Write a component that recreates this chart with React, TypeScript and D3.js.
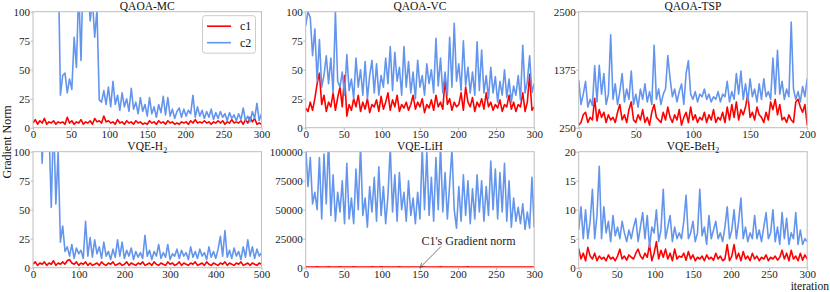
import { useEffect, useRef } from 'react';
import * as d3 from 'd3';

// gradient norms (c1 = red, c2 = blue)
const MC_C1 = [4,7,3,6,4,8,3,5,4,6,3,5,4,5,3,9,4,6,3,5,4,7,3,5,4,6,3,8,5,6,4,10,5,6,4,5,3,7,4,5,3,6,4,5,3,6,4,5,3,4,3,6,4,5,3,6,4,5,3,6,4,5,3,4,3,5,4,5,3,6,4,7,4,5,4,6,4,5,3,5,4,6,4,6,3,5,4,7,4,5,4,6,3,7,4,9,5,8,3,4,3];
const MC_C2 = [210,160,250,180,300,140,220,190,260,170,230,150,
  28,45,47,30,42,33,78,52,120,58,140,180,130,92,110,78,102,24,22,32,20,35,18,40,20,28,15,30,18,25,14,34,16,22,12,26,14,20,10,26,
  12,18,9,20,13,27,11,26,10,16,8,14,17,9,16,10,15,12,28,9,18,10,15,8,14,9,16,7,13,8,14,9,12,6,13,8,11,6,12,7,17,6,10,5,14,8,21,6,12];

const VC_C1 = [17,14,22,15,25,38,47,20,28,14,22,18,30,15,26,35,18,45,10,20,15,25,18,28,14,22,16,25,13,20,18,24,14,27,16,22,30,15,24,18,28,14,20,17,22,15,20,28,16,22,18,25,13,20,17,24,15,28,18,22,16,42,20,25,15,22,18,20,30,15,35,22,18,26,14,22,18,25,16,30,18,22,15,20,17,24,14,20,18,28,16,22,14,20,18,30,14,22,46,15,18];
const VC_C2 = [88,100,95,62,85,40,76,35,45,62,38,60,30,100,40,35,48,28,63,32,42,25,60,35,50,28,57,25,45,58,30,55,28,45,35,60,38,70,32,65,40,52,28,70,35,57,30,48,25,58,35,45,28,55,38,50,30,77,36,60,30,48,28,78,35,90,40,55,32,75,36,52,30,48,28,74,32,67,30,45,25,52,30,44,22,40,28,50,26,42,22,36,28,45,24,71,30,40,62,30,38];

const TSP_C1 = [300,350,500,550,350,450,400,820,380,600,450,550,350,500,400,450,350,550,700,400,500,350,600,750,400,350,500,400,600,350,450,300,550,700,450,400,350,550,400,650,450,350,500,400,600,300,450,550,350,650,400,500,350,450,400,550,350,500,400,600,350,450,400,550,350,650,400,700,450,750,400,600,500,650,900,450,550,400,650,500,450,350,550,400,750,600,800,500,700,400,450,350,500,400,350,750,800,650,550,700,300];
const TSP_C2 = [1180,700,900,1150,650,800,680,1450,750,1460,900,1300,700,900,2050,800,1100,700,950,1300,750,1000,800,1350,700,900,650,1000,800,1100,750,950,700,1850,800,1000,700,900,1000,1650,1200,850,1000,750,950,1100,700,1300,1550,900,800,950,750,900,850,1000,800,900,750,850,800,950,750,900,850,1150,750,950,800,1300,900,1350,800,1100,750,1200,850,1000,750,1100,800,1200,850,950,800,1600,900,1750,900,1150,800,1000,850,2300,1000,800,950,750,1050,850,1200];

const H2_C1 = [3,5,2,4,3,5,2,4,3,6,2,4,3,5,3,6,7,4,3,5,2,4,3,5,2,4,2,3,4,2,5,3,2,4,3,5,2,3,4,2,3,5,2,4,3,2,4,3,5,2,3,4,2,5,3,2,4,3,2,5,3,4,2,3,5,2,4,3,2,4,3,5,2,3,4,2,5,3,2,4,3,2,4,3,5,2,4,3,2,4,3,5,2,3,4,2,4,3,2,4,3];
const H2_C2 = [150,200,130,160,90,140,180,120,52,130,55,100,22,36,14,18,10,20,8,17,12,15,8,40,10,26,9,24,12,18,8,22,10,14,7,16,9,24,10,22,8,15,10,17,7,14,9,13,8,28,10,15,7,14,10,20,8,13,9,20,7,12,10,16,8,15,10,13,7,18,9,14,8,16,10,13,7,18,9,14,8,16,27,10,32,9,15,8,17,10,14,7,18,9,24,10,18,8,16,10,13];

const LIH_C1 = [700,550,650,520,600,750,580,660,540,620,700,560,640,600,530,680,570,630,550,660,590,720,540,610,650,570,630,530,600,670,560,640,580,700,550,620,660,540,590,630,570,680,550,610,640,530,600,660,580,630,550,690,570,620,540,650,590,610,560,670,540,630,600,580,660,550,620,570,640,530,610,680,560,600,630,550,660,580,620,540,640,570,600,660,550,630,590,610,540,650,570,620,560,600,640,550,610,580,630,540,600];
const LIH_C2 = [105000,70000,95000,55000,65000,50000,95000,42000,98000,55000,110000,45000,80000,40000,65000,48000,75000,38000,90000,42000,60000,38000,85000,50000,105000,45000,60000,35000,70000,48000,78000,40000,87000,45000,70000,38000,62000,104000,48000,80000,40000,82000,50000,65000,40000,75000,45000,60000,38000,65000,42000,103000,50000,100000,45000,78000,40000,95000,50000,105000,48000,82000,42000,72000,102000,50000,34000,70000,40000,80000,45000,75000,38000,68000,42000,80000,48000,75000,40000,70000,45000,92000,50000,85000,42000,82000,48000,90000,40000,75000,35000,60000,40000,52000,38000,55000,33000,48000,34000,78000,35000];

const BEH2_C1 = [3.3,1.5,2.5,1.2,3.5,2,1.5,2.5,1.2,2,1.5,1.8,1.2,2.2,1.5,1.8,1.2,2,3.2,1.5,2,1.3,2.2,1.8,1.5,2.5,3.2,2,1.5,2.5,1.8,4,1.2,2.5,4.5,1.5,3,1.8,3.2,1.5,2.5,1.2,3.2,1.5,2,1.8,2.5,1.3,2.8,1.5,2.2,1.2,1.8,1.5,2,1.2,2.2,1.5,1.8,1.3,2.5,1.5,2,1.2,1.5,4,1.2,2,4,1.5,2.5,1.2,2.8,1.5,2,1.2,2.5,1.5,2,1.2,1.8,1.5,2.2,1.2,1.8,1.5,2,1.3,1.8,3,1.5,2.5,1.2,3,1.5,2,1.2,2.5,1.3,2.2,1.5];
const BEH2_C2 = [6.5,10.5,5,10,5,8,13.5,5,9,17.5,5,10.5,6,8,4.5,9,5.5,7,5,8,6,4.5,6.5,5,7,8.5,4.5,7,9.5,5,9,3.5,7,6,10,4.5,6.5,13.5,5,7,9,4.5,7,5,6,5,8,12.5,5,6,8,4.5,6,13.5,5.5,7,4,9,5,6.5,8,5,6,4.5,7,10.5,5,6.5,10,5,8,12,5,7,4.5,6,5,9,5,6.5,4.5,7,9.5,5,6,10,4.5,7,4,9.5,5,8.5,4,6,5,9.5,4,6.5,4,5,4.5];

const TITLES = ['QAOA-MC', 'QAOA-VC', 'QAOA-TSP', 'VQE-H', 'VQE-LiH', 'VQE-BeH'];
const TITLE_SUBS = ['', '', '', '2', '', '2'];
const X_MAX = [300, 300, 200, 500, 300, 300];
const X_TICKS = [
  [0, 50, 100, 150, 200, 250, 300],
  [0, 50, 100, 150, 200, 250, 300],
  [0, 50, 100, 150, 200],
  [0, 100, 200, 300, 400, 500],
  [0, 50, 100, 150, 200, 250, 300],
  [0, 50, 100, 150, 200, 250, 300],
];
const Y_TICKS = [
  [0, 25, 50, 75, 100],
  [0, 25, 50, 75, 100],
  [250, 1375, 2500],
  [0, 25, 50, 75, 100],
  [0, 25000, 50000, 75000, 100000],
  [0, 5, 10, 15, 20],
];
const C1_SERIES = [MC_C1, VC_C1, TSP_C1, H2_C1, LIH_C1, BEH2_C1];
const C2_SERIES = [MC_C2, VC_C2, TSP_C2, H2_C2, LIH_C2, BEH2_C2];
const LEGEND = ['c1', 'c2'];

const RED = '#ff0000';
const BLUE = '#6495ed';
const FONT = '"Liberation Serif", "Times New Roman", serif';

export default function App() {
  const svgRef = useRef<SVGSVGElement>(null);

  useEffect(() => {
    if (!svgRef.current) return;
    const svg = d3.select(svgRef.current);
    svg.selectAll('*').remove();

    const COLS = [33, 305.7, 578.7];
    const ROWS = [11.7, 151.7];
    const PW = 228.5;
    const PH = 116;

    TITLES.forEach((title, i) => {
      const x0 = COLS[i % 3];
      const y0 = ROWS[Math.floor(i / 3)];
      const yt = Y_TICKS[i];
      const x = d3.scaleLinear().domain([0, X_MAX[i]]).range([x0, x0 + PW]);
      const y = d3.scaleLinear().domain([yt[0], yt[yt.length - 1]]).range([y0 + PH, y0]);

      const g = svg.append('g');
      const clipId = `clip-${i}`;
      g.append('clipPath').attr('id', clipId)
        .append('rect').attr('x', x0).attr('y', y0).attr('width', PW).attr('height', PH);

      const plot = g.append('g').attr('clip-path', `url(#${clipId})`);
      [C1_SERIES[i], C2_SERIES[i]].forEach((vals, k) => {
        const step = X_MAX[i] / (vals.length - 1);
        const line = d3.line<number>().x((_, j) => x(j * step)).y(v => y(v));
        plot.append('path').datum(vals).attr('d', line)
          .style('fill', 'none').style('stroke', k === 0 ? RED : BLUE)
          .style('stroke-width', 1.6).style('stroke-linejoin', 'round');
      });

      // frame
      g.append('rect').attr('x', x0).attr('y', y0).attr('width', PW).attr('height', PH)
        .style('fill', 'none').style('stroke', '#bdbdbd').style('stroke-width', 1);

      // axes
      const xa = g.append('g').attr('transform', `translate(0,${y0 + PH})`)
        .call(d3.axisBottom(x).tickValues(X_TICKS[i]).tickSize(2.5).tickPadding(-0.5).tickFormat(d3.format('d')));
      const ya = g.append('g').attr('transform', `translate(${x0},0)`)
        .call(d3.axisLeft(y).tickValues(yt).tickSize(2.5).tickPadding(0.5).tickFormat(d3.format('d')));
      [xa, ya].forEach(a => {
        a.select('.domain').remove();
        a.selectAll('.tick line').style('stroke', '#bdbdbd');
        a.selectAll('text').style('fill', '#222').style('font-family', FONT).style('font-size', '11px');
      });

      // title
      const t = g.append('text').attr('x', x0 + PW / 2).attr('y', y0 - 1.5)
        .attr('text-anchor', 'middle').style('font-family', FONT).style('font-size', '11.5px').style('fill', '#111')
        .text(title);
      if (TITLE_SUBS[i]) {
        t.append('tspan').attr('dy', 2.5).style('font-size', '8px').text(TITLE_SUBS[i]);
      }

      // legend in the first panel
      if (i === 0) {
        const lx = x0 + PW - 59;
        const ly = y0 + 4;
        g.append('rect').attr('x', lx).attr('y', ly).attr('width', 53).attr('height', 37.5).attr('rx', 2.5)
          .style('fill', 'white').style('fill-opacity', 0.85).style('stroke', '#cccccc');
        LEGEND.forEach((lab, k) => {
          const yy = ly + 10.5 + k * 16.5;
          g.append('line').attr('x1', lx + 4.5).attr('x2', lx + 28.5).attr('y1', yy).attr('y2', yy)
            .style('stroke', k === 0 ? RED : BLUE).style('stroke-width', 1.6);
          g.append('text').attr('x', lx + 37.5).attr('y', yy + 3.8)
            .style('font-family', FONT).style('font-size', '12px').style('fill', '#111').text(lab);
        });
      }

      // annotation in the LiH panel
      if (i === 4) {
        const ax = x(150), ay = y(0);
        const sx = x(150) + 21, sy = y(20000) + 2;
        g.append('line').attr('x1', sx).attr('y1', sy).attr('x2', ax).attr('y2', ay)
          .style('stroke', '#555').style('stroke-width', 0.8);
        const ang = Math.atan2(ay - sy, ax - sx);
        const hl = 5;
        [0.45, -0.45].forEach(da => {
          g.append('line').attr('x1', ax).attr('y1', ay)
            .attr('x2', ax - hl * Math.cos(ang + da)).attr('y2', ay - hl * Math.sin(ang + da))
            .style('stroke', '#555').style('stroke-width', 0.8);
        });
        g.append('text').attr('x', x(150) + 1.5).attr('y', y(20000))
          .style('font-family', FONT).style('font-size', '12px').style('fill', '#222')
          .text("C1's Gradient norm");
      }
    });

    svg.append('text').attr('transform', 'translate(10.5,142) rotate(-90)')
      .attr('text-anchor', 'middle').style('font-family', FONT).style('font-size', '12px').style('fill', '#111')
      .text('Gradient Norm');
    svg.append('text').attr('x', 829).attr('y', 289.5)
      .attr('text-anchor', 'end').style('font-family', FONT).style('font-size', '11.5px').style('fill', '#111')
      .text('iteration');
  }, []);

  return (
    <svg ref={svgRef} width={830} height={292}
      style={{ position: 'absolute', left: 0, top: 0, display: 'block', background: 'white' }} />
  );
}
